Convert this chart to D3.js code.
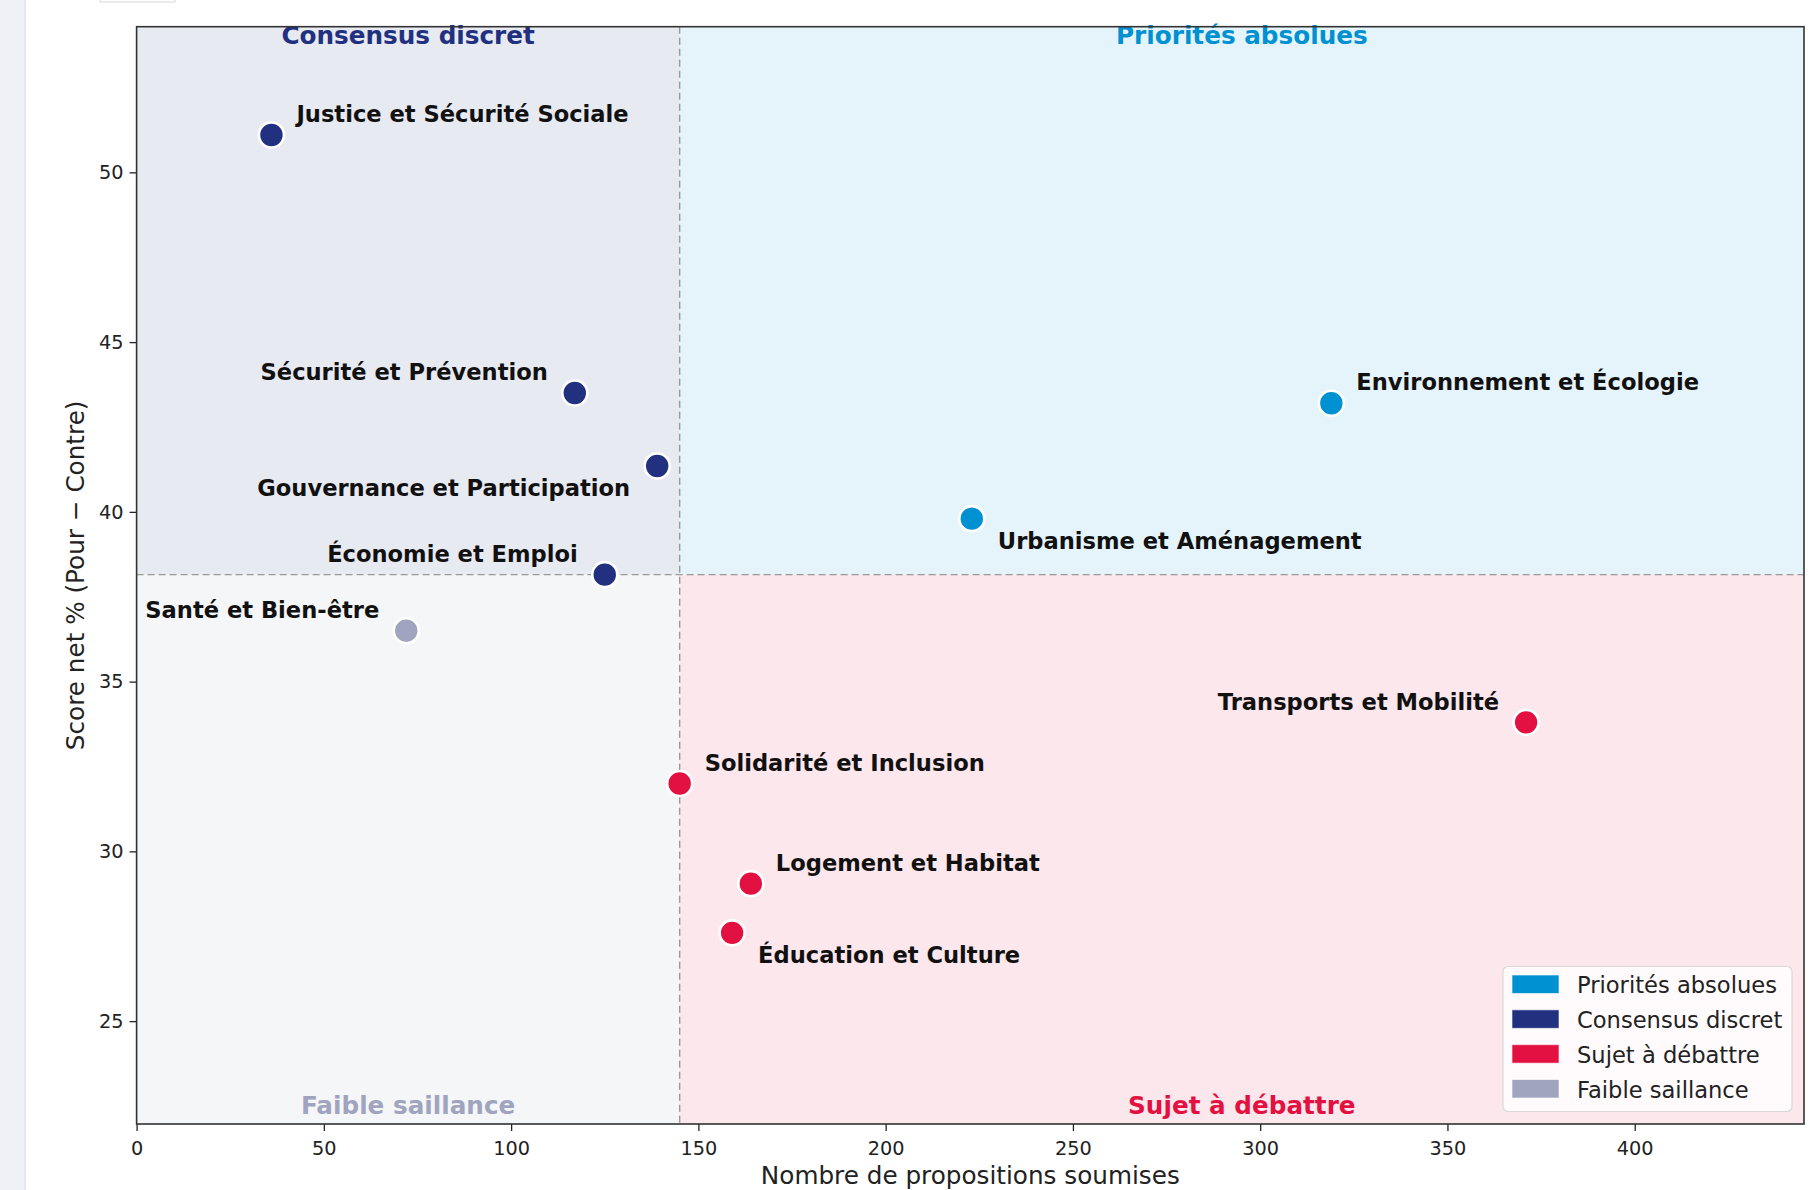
<!DOCTYPE html>
<html>
<head>
<meta charset="utf-8">
<script src="https://cdn.jsdelivr.net/npm/d3@7"></script>
<style>
  html, body { margin: 0; padding: 0; background: #ffffff; }
  svg { display: block; font-family: "DejaVu Sans", sans-serif; }
</style>
</head>
<body>
<svg id="chart" width="1813" height="1190"></svg>
<script>
// ---------------- DATA ----------------
const topics = [
  "Justice et Sécurité Sociale",
  "Sécurité et Prévention",
  "Gouvernance et Participation",
  "Économie et Emploi",
  "Santé et Bien-être",
  "Environnement et Écologie",
  "Urbanisme et Aménagement",
  "Transports et Mobilité",
  "Solidarité et Inclusion",
  "Logement et Habitat",
  "Éducation et Culture"
];
const propositions = [36, 117, 139, 125, 72, 319, 223, 371, 145, 164, 159];
const netScores    = [51.1, 43.5, 41.35, 38.15, 36.5, 43.2, 39.8, 33.8, 32.0, 29.05, 27.6];
const quadrantOf   = [
  "Consensus discret", "Consensus discret", "Consensus discret", "Consensus discret",
  "Faible saillance",
  "Priorités absolues", "Priorités absolues",
  "Sujet à débattre", "Sujet à débattre", "Sujet à débattre", "Sujet à débattre"
];
const quadrantNames = ["Priorités absolues", "Consensus discret", "Sujet à débattre", "Faible saillance"];
const xTicks = [0, 50, 100, 150, 200, 250, 300, 350, 400];
const yTicks = [25, 30, 35, 40, 45, 50];
const xLabel = "Nombre de propositions soumises";
const yLabel = "Score net % (Pour \u2212 Contre)";

// ---------------- STYLE / LAYOUT ----------------
const colors = {
  "Priorités absolues": "#0091D2",
  "Consensus discret": "#21307F",
  "Sujet à débattre": "#E31142",
  "Faible saillance": "#A0A4BF"
};
// label placement per topic: ne = right/above, nw = left/above, sw = left/below, se = right/below
const labelPlace = ["ne", "nw", "sw", "nw", "nw", "ne", "se", "nw", "ne", "ne", "se"];

const svg = d3.select("#chart");
const W = 1813, H = 1190;
const pLeft = 136.6, pRight = 1804, pTop = 26.7, pBottom = 1124;

// background strip & small box
svg.append("rect").attr("x", 0).attr("y", 0).attr("width", 24).attr("height", H).attr("fill", "#EEF0F6");
svg.append("rect").attr("x", 24).attr("y", 0).attr("width", 2).attr("height", H).attr("fill", "#E4E7EF");
svg.append("rect").attr("x", 100).attr("y", -6).attr("width", 75).attr("height", 8)
  .attr("fill", "#fff").attr("stroke", "#d8d8d8").attr("stroke-width", 1);

const yMin = 21.97, yMax = 54.29;
const xMax = d3.max(propositions) * 1.2;
const x = d3.scaleLinear().domain([0, xMax]).range([pLeft, pRight]);
const y = d3.scaleLinear().domain([yMin, yMax]).range([pBottom, pTop]);

const xMed = d3.median(propositions);
const yMed = d3.median(netScores);

// quadrant backgrounds
const qRects = [
  { name: "Consensus discret", x0: 0, x1: xMed, y0: yMed, y1: yMax },
  { name: "Priorités absolues", x0: xMed, x1: xMax, y0: yMed, y1: yMax },
  { name: "Faible saillance", x0: 0, x1: xMed, y0: yMin, y1: yMed },
  { name: "Sujet à débattre", x0: xMed, x1: xMax, y0: yMin, y1: yMed }
];
svg.append("g").selectAll("rect").data(qRects).join("rect")
  .attr("x", d => x(d.x0)).attr("width", d => x(d.x1) - x(d.x0))
  .attr("y", d => y(d.y1)).attr("height", d => y(d.y0) - y(d.y1))
  .attr("fill", d => colors[d.name]).attr("fill-opacity", 0.1);

// median lines
svg.append("line").attr("x1", x(xMed)).attr("x2", x(xMed)).attr("y1", pTop).attr("y2", pBottom)
  .attr("stroke", "#8a8a8a").attr("stroke-width", 1.4).attr("stroke-dasharray", "7,4").attr("stroke-opacity", 0.85);
svg.append("line").attr("x1", pLeft).attr("x2", pRight).attr("y1", y(yMed)).attr("y2", y(yMed))
  .attr("stroke", "#8a8a8a").attr("stroke-width", 1.4).attr("stroke-dasharray", "7,4").attr("stroke-opacity", 0.85);

// quadrant titles
const qTitles = [
  { name: "Consensus discret", cx: xMed / 2, pos: "top" },
  { name: "Priorités absolues", cx: (xMed + xMax) / 2, pos: "top" },
  { name: "Faible saillance", cx: xMed / 2, pos: "bottom" },
  { name: "Sujet à débattre", cx: (xMed + xMax) / 2, pos: "bottom" }
];
svg.append("g").selectAll("text").data(qTitles).join("text")
  .attr("x", d => x(d.cx))
  .attr("y", d => d.pos === "top" ? 43.5 : 1113.5)
  .attr("text-anchor", "middle")
  .attr("font-size", 24.7).attr("font-weight", "bold")
  .attr("fill", d => colors[d.name])
  .text(d => d.name);

// points
const pts = topics.map((t, i) => ({ t, px: propositions[i], s: netScores[i], q: quadrantOf[i], lp: labelPlace[i] }));
svg.append("g").selectAll("circle").data(pts).join("circle")
  .attr("cx", d => x(d.px)).attr("cy", d => y(d.s)).attr("r", 12.5)
  .attr("fill", d => colors[d.q]).attr("stroke", "#ffffff").attr("stroke-width", 2.6);

// labels
const off = {
  ne: { dx: 25, dy: -12.8, anchor: "start" },
  nw: { dx: -27, dy: -12.8, anchor: "end" },
  sw: { dx: -27, dy: 30, anchor: "end" },
  se: { dx: 26, dy: 30, anchor: "start" }
};
svg.append("g").selectAll("text").data(pts).join("text")
  .attr("x", d => x(d.px) + off[d.lp].dx)
  .attr("y", d => y(d.s) + off[d.lp].dy)
  .attr("text-anchor", d => off[d.lp].anchor)
  .attr("font-size", 22.6).attr("font-weight", "bold").attr("fill", "#111")
  .text(d => d.t);

// axes
const xAxis = d3.axisBottom(x).tickValues(xTicks).tickFormat(d3.format("d")).tickSize(7).tickPadding(10);
const yAxis = d3.axisLeft(y).tickValues(yTicks).tickFormat(d3.format("d")).tickSize(7).tickPadding(6);
const gx = svg.append("g").attr("transform", `translate(0,${pBottom})`).call(xAxis);
const gy = svg.append("g").attr("transform", `translate(${pLeft},0)`).call(yAxis);
[gx, gy].forEach(g => {
  g.select(".domain").remove();
  g.selectAll(".tick line").attr("stroke", "#222").attr("stroke-width", 1.3);
  g.selectAll(".tick text").attr("font-size", 19.3).attr("fill", "#222").attr("font-family", "DejaVu Sans");
});

// frame
svg.append("rect").attr("x", pLeft).attr("y", pTop).attr("width", pRight - pLeft).attr("height", pBottom - pTop)
  .attr("fill", "none").attr("stroke", "#333").attr("stroke-width", 1.6);

// legend
const lg = svg.append("g");
lg.append("rect").attr("x", 1503).attr("y", 966.5).attr("width", 289).attr("height", 145).attr("rx", 5)
  .attr("fill", "#ffffff").attr("fill-opacity", 0.8).attr("stroke", "#d9d9d9").attr("stroke-width", 1.2);
const rowY = d3.scaleLinear().domain([0, 3]).range([975, 1079.5]);
const items = lg.selectAll("g.item").data(quadrantNames).join("g").attr("class", "item");
items.append("rect").attr("x", 1512).attr("y", (d, i) => rowY(i)).attr("width", 47).attr("height", 18.5)
  .attr("fill", d => colors[d]).attr("stroke", "#ffffff").attr("stroke-opacity", 0.6).attr("stroke-width", 1);
items.append("text").attr("x", 1577).attr("y", (d, i) => rowY(i) + 18.3)
  .attr("font-size", 22.6).attr("fill", "#222").text(d => d);

// axis labels
svg.append("text").attr("x", (pLeft + pRight) / 2).attr("y", 1184).attr("text-anchor", "middle")
  .attr("font-size", 24.7).attr("fill", "#222").text(xLabel);
svg.append("text").attr("transform", `translate(84,${(pTop + pBottom) / 2}) rotate(-90)`)
  .attr("text-anchor", "middle").attr("font-size", 24.7).attr("fill", "#222").text(yLabel);
</script>
</body>
</html>
